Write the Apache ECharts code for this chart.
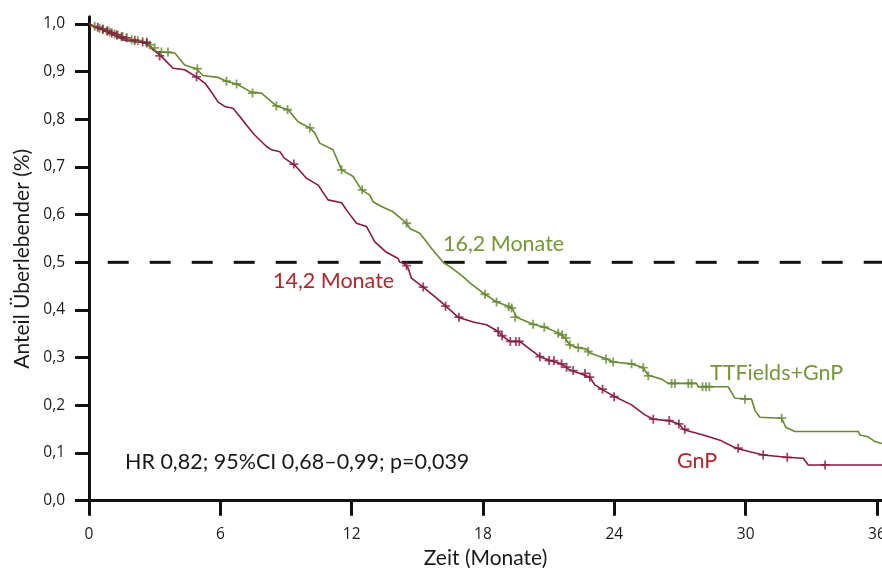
<!DOCTYPE html>
<html>
<head>
<meta charset="utf-8">
<script src="https://cdn.jsdelivr.net/npm/echarts@6/dist/echarts.min.js"></script>
<style>
  html, body { margin: 0; padding: 0; background: #fff; }
  #chart { width: 882px; height: 568px; }
</style>
</head>
<body>
<div id="chart"></div>
<script>
// Kaplan-Meier survival: months vs. proportion surviving
const xTicks = [0, 6, 12, 18, 24, 30, 36];
const yTicks = [0, 0.1, 0.2, 0.3, 0.4, 0.5, 0.6, 0.7, 0.8, 0.9, 1.0];
const medianLevel = 0.5;

// TTFields + GnP arm
const ttfCurve = [
  [0, 1.0], [0.11, 0.998], [0.72, 0.987], [1.63, 0.969], [2.2, 0.965], [2.64, 0.962],
  [2.85, 0.952], [3.08, 0.942], [3.92, 0.939], [4.37, 0.914], [4.91, 0.906], [5.2, 0.892],
  [5.88, 0.888], [6.28, 0.88], [6.74, 0.874], [7.42, 0.857], [7.88, 0.855], [8.56, 0.828],
  [9.1, 0.82], [9.55, 0.795], [10.09, 0.782], [10.32, 0.771], [10.54, 0.75], [11.15, 0.736],
  [11.54, 0.694], [12.07, 0.68], [12.45, 0.652], [12.83, 0.641], [12.98, 0.627], [13.36, 0.617],
  [13.89, 0.606], [14.51, 0.582], [14.66, 0.571], [15.11, 0.561], [15.42, 0.543], [15.65, 0.529],
  [16.2, 0.499], [16.49, 0.491], [17.09, 0.47], [17.4, 0.457], [18.09, 0.433], [18.62, 0.417],
  [19.23, 0.407], [19.38, 0.4], [19.53, 0.385], [20.29, 0.37], [20.83, 0.364], [21.44, 0.352],
  [21.74, 0.342], [21.97, 0.326], [22.35, 0.321], [22.74, 0.318], [22.88, 0.31], [23.57, 0.299],
  [23.95, 0.291], [24.79, 0.287], [25.32, 0.279], [25.55, 0.263], [26.16, 0.255], [26.46, 0.246],
  [27.76, 0.246], [27.83, 0.239], [29.2, 0.239], [29.51, 0.215], [30.27, 0.213], [30.43, 0.189],
  [30.65, 0.175], [31.65, 0.173], [31.83, 0.154], [32.25, 0.145], [35.15, 0.145], [35.22, 0.138],
  [35.6, 0.134], [35.91, 0.124], [36.23, 0.12]
];
const ttfCensored = [
  [0.26, 0.995], [0.49, 0.991], [0.63, 0.989], [0.81, 0.985], [0.95, 0.983], [1.17, 0.979],
  [1.31, 0.977], [1.54, 0.973], [1.95, 0.967], [2.23, 0.965], [2.64, 0.962], [2.77, 0.956],
  [3.0, 0.95], [3.31, 0.941], [3.61, 0.941], [4.95, 0.906], [6.28, 0.88], [6.74, 0.874],
  [7.47, 0.855], [8.56, 0.828], [9.07, 0.82], [10.09, 0.782], [11.54, 0.694], [12.48, 0.652],
  [14.51, 0.582], [18.09, 0.433], [18.62, 0.417], [19.18, 0.407], [19.31, 0.404], [19.46, 0.385],
  [20.29, 0.37], [20.8, 0.364], [21.44, 0.351], [21.62, 0.348], [21.79, 0.341], [21.97, 0.327],
  [22.35, 0.321], [22.81, 0.313], [23.62, 0.297], [23.95, 0.291], [24.79, 0.287], [25.32, 0.279],
  [25.55, 0.262], [26.62, 0.246], [26.77, 0.246], [27.38, 0.246], [27.53, 0.246], [28.03, 0.239],
  [28.19, 0.239], [28.34, 0.239], [29.97, 0.213], [31.65, 0.173]
];

// GnP arm
const gnpCurve = [
  [0, 1.0], [0.11, 0.998], [0.72, 0.985], [1.63, 0.966], [2.09, 0.963], [2.62, 0.96],
  [2.85, 0.949], [3.23, 0.935], [3.54, 0.921], [3.84, 0.907], [4.37, 0.904], [4.91, 0.889],
  [5.29, 0.876], [5.52, 0.862], [5.9, 0.836], [6.2, 0.827], [6.58, 0.823], [6.89, 0.806],
  [7.19, 0.788], [7.57, 0.767], [8.11, 0.743], [8.34, 0.736], [8.72, 0.732], [8.94, 0.718],
  [9.4, 0.704], [9.94, 0.676], [10.47, 0.662], [10.92, 0.631], [11.54, 0.625], [11.76, 0.61],
  [12.22, 0.582], [12.68, 0.575], [13.06, 0.543], [13.59, 0.521], [14.12, 0.508], [14.2, 0.5],
  [14.35, 0.499], [14.58, 0.488], [14.73, 0.467], [15.27, 0.448], [15.88, 0.425], [16.33, 0.407],
  [16.86, 0.385], [17.55, 0.375], [18.16, 0.369], [18.69, 0.355], [18.92, 0.344], [19.23, 0.334],
  [19.68, 0.334], [19.99, 0.323], [20.6, 0.302], [21.06, 0.294], [21.59, 0.287], [21.97, 0.274],
  [22.43, 0.267], [22.88, 0.259], [23.11, 0.243], [23.49, 0.232], [24.03, 0.218], [24.79, 0.201],
  [25.4, 0.18], [25.78, 0.171], [26.49, 0.168], [26.95, 0.161], [27.18, 0.149], [28.06, 0.138],
  [28.83, 0.127], [29.43, 0.113], [29.74, 0.108], [30.8, 0.096], [31.87, 0.091], [32.63, 0.089],
  [32.86, 0.075], [36.23, 0.075]
];
const gnpCensored = [
  [0.4, 0.993], [0.63, 0.989], [0.85, 0.985], [1.04, 0.981], [1.27, 0.977], [1.49, 0.973],
  [1.72, 0.971], [2.09, 0.966], [2.45, 0.962], [2.64, 0.96], [3.23, 0.933], [4.91, 0.889],
  [9.36, 0.706], [14.51, 0.493], [15.27, 0.448], [16.29, 0.408], [16.9, 0.385], [18.69, 0.355],
  [18.87, 0.346], [19.25, 0.334], [19.5, 0.334], [19.66, 0.334], [20.6, 0.302], [21.02, 0.294],
  [21.24, 0.294], [21.59, 0.287], [21.82, 0.28], [22.12, 0.273], [22.66, 0.267], [22.88, 0.259],
  [23.46, 0.234], [23.99, 0.218], [25.78, 0.171], [26.51, 0.168], [26.95, 0.161], [27.22, 0.15],
  [29.66, 0.11], [30.8, 0.096], [31.9, 0.091], [33.63, 0.075]
];

const GREEN_LINE = '#658a30';
const GREEN_TEXT = '#76963a';
const RED_LINE = '#861942';
const RED_TEXT = '#b2262c';
const AXIS = '#111111';
const PLUS = 'path://M4,0H6V4H10V6H6V10H4V6H0V4H4Z';
const NOTE_FONT = '21.5px Lato';

const fmt = v => v.toFixed(1).replace('.', ',');

const chart = echarts.init(document.getElementById('chart'));
chart.setOption({
  animation: false,
  backgroundColor: '#ffffff',
  grid: { left: 89, right: 0, top: 16.8, bottom: 67.3, containLabel: false, outerBoundsMode: 'none' },
  xAxis: {
    type: 'value', min: 0, max: 36.23,
    name: 'Zeit (Monate)', nameLocation: 'middle', nameGap: 46,
    nameTextStyle: { fontFamily: 'Lato', fontSize: 21, color: '#1a1a1a' },
    splitLine: { show: false },
    axisLine: { lineStyle: { color: AXIS, width: 3 } },
    axisTick: { customValues: xTicks, length: 15, lineStyle: { color: AXIS, width: 3 } },
    axisLabel: { customValues: xTicks, margin: 26, fontFamily: 'Open Sans', fontSize: 15.5, color: '#1a1a1a' }
  },
  yAxis: {
    type: 'value', min: 0, max: 1.015,
    name: 'Anteil Überlebender (%)', nameLocation: 'middle', nameGap: 56,
    nameTextStyle: { fontFamily: 'Lato', fontSize: 21, color: '#1a1a1a' },
    splitLine: { show: false },
    axisLine: { lineStyle: { color: AXIS, width: 3 } },
    axisTick: { customValues: yTicks, length: 14, lineStyle: { color: AXIS, width: 3 } },
    axisLabel: { customValues: yTicks, margin: 24, formatter: fmt, fontFamily: 'Open Sans', fontSize: 15.5, color: '#1a1a1a' }
  },
  series: [
    {
      type: 'line', data: [[0, medianLevel], [36.23, medianLevel]], showSymbol: false, silent: true,
      lineStyle: { color: AXIS, width: 3, type: [21, 21], dashOffset: 23.3 }, z: 1
    },
    {
      type: 'line', name: 'TTFields+GnP', data: ttfCurve, showSymbol: false,
      lineStyle: { color: GREEN_LINE, width: 1.6 }, z: 3
    },
    {
      type: 'scatter', data: ttfCensored, symbol: PLUS, symbolSize: 9,
      itemStyle: { color: GREEN_LINE }, z: 4
    },
    {
      type: 'line', name: 'GnP', data: gnpCurve, showSymbol: false,
      lineStyle: { color: RED_LINE, width: 1.6 }, z: 3
    },
    {
      type: 'scatter', data: gnpCensored, symbol: PLUS, symbolSize: 9,
      itemStyle: { color: RED_LINE }, z: 4
    }
  ],
  graphic: [
    { type: 'text', x: 443, y: 244, style: { text: '16,2 Monate', fill: GREEN_TEXT, font: NOTE_FONT, verticalAlign: 'middle' } },
    { type: 'text', x: 273, y: 281, style: { text: '14,2 Monate', fill: RED_TEXT, font: NOTE_FONT, verticalAlign: 'middle' } },
    { type: 'text', x: 710, y: 373, style: { text: 'TTFields+GnP', fill: GREEN_TEXT, font: NOTE_FONT, verticalAlign: 'middle' } },
    { type: 'text', x: 677, y: 461, style: { text: 'GnP', fill: RED_TEXT, font: NOTE_FONT, verticalAlign: 'middle' } },
    { type: 'text', x: 125, y: 462.5, style: { text: 'HR 0,82; 95%CI 0,68–0,99; p=0,039', fill: '#1a1a1a', font: NOTE_FONT, verticalAlign: 'middle' } }
  ]
});
</script>
</body>
</html>
